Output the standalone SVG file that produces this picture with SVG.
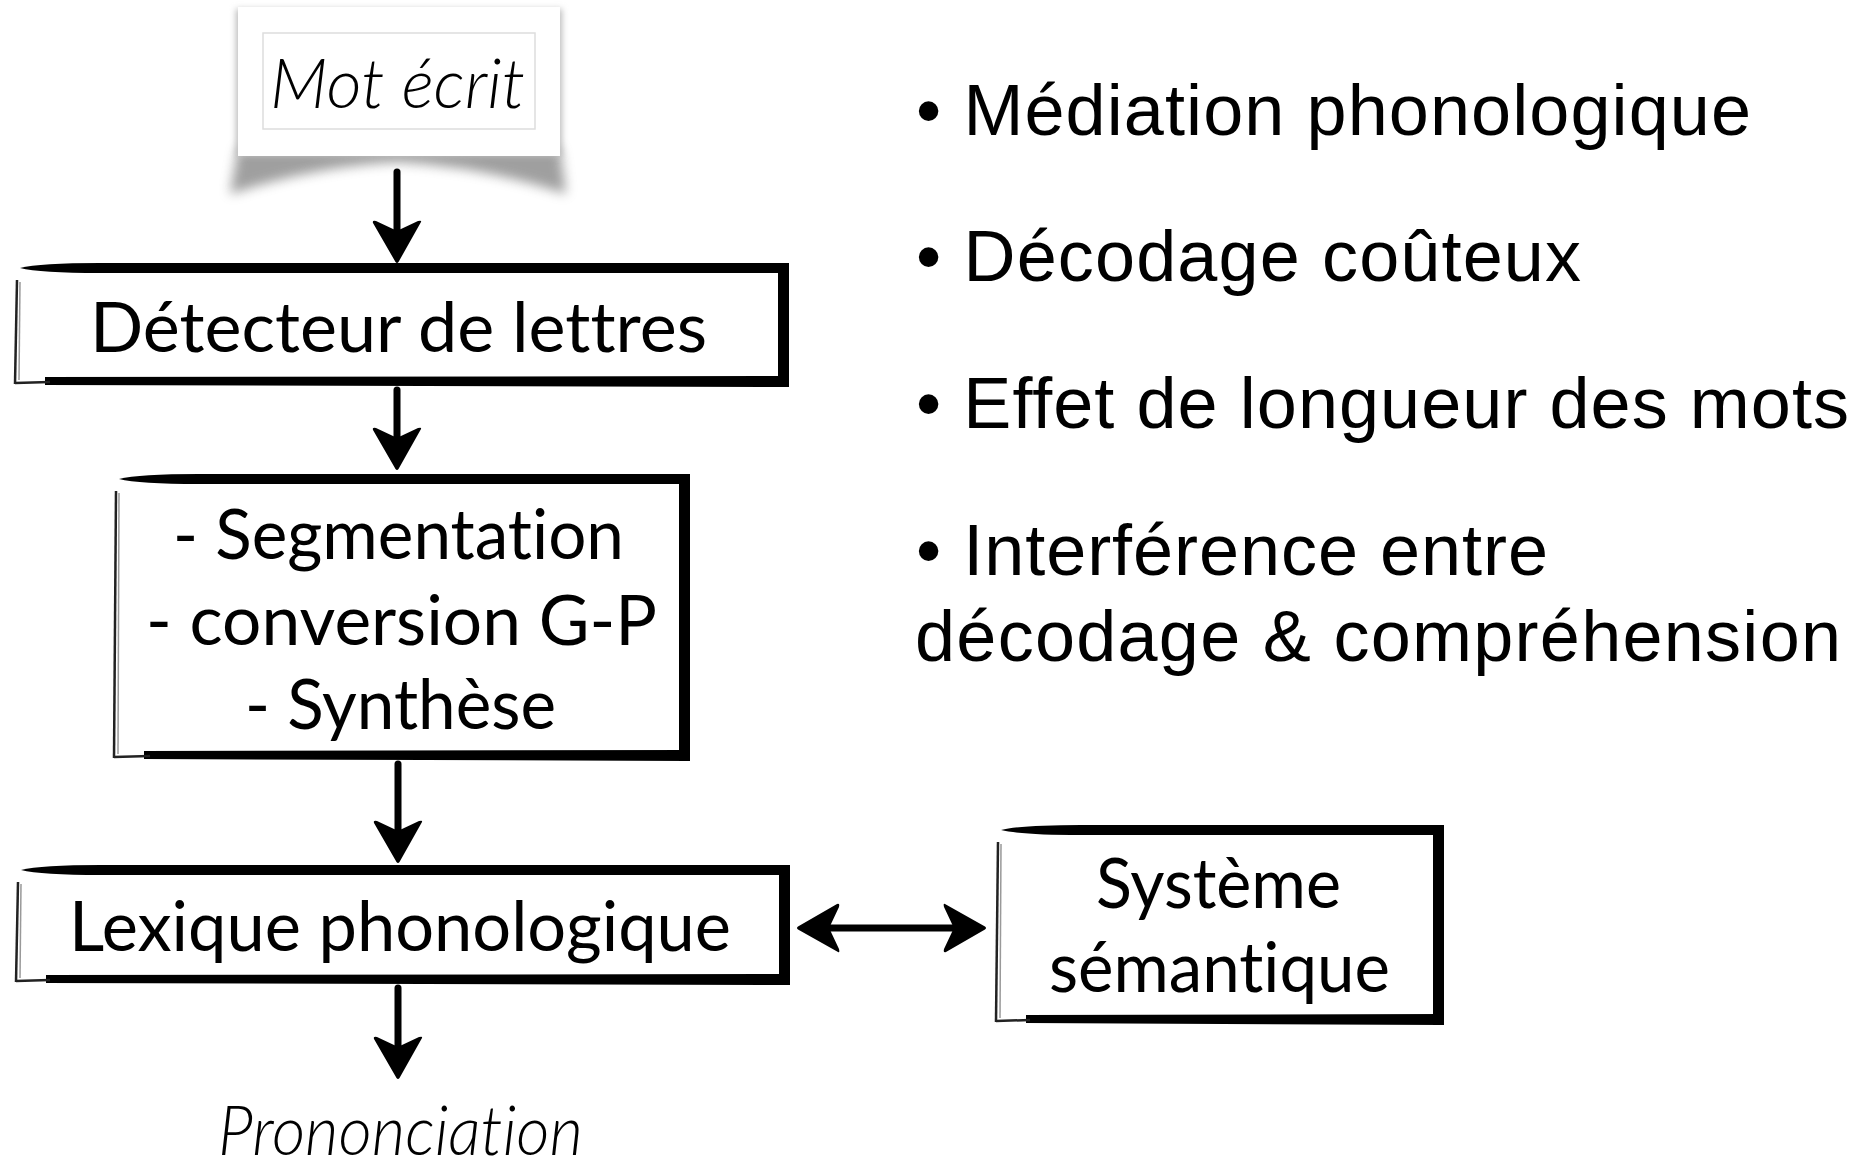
<svg xmlns="http://www.w3.org/2000/svg" width="1874" height="1161" viewBox="0 0 1874 1161">
<style>
.ink{fill:#000}
.thin{stroke:#222;stroke-width:2.5;fill:none}
.thin2{stroke:#999;stroke-width:1.5;fill:none}
.conn{stroke:#000;stroke-width:7;fill:none;stroke-linecap:round}
.lbl{font-family:Lato,"Open Sans","Noto Sans",sans-serif;font-size:70px;fill:#000;text-anchor:middle;font-variant-ligatures:none}
.it{font-style:italic;font-weight:300}
.bul{font-family:"Liberation Sans",Arial,Helvetica,sans-serif;font-size:72px;fill:#000}
</style>
<defs>
<marker id="head" viewBox="0 0 44 50" markerWidth="44" markerHeight="50" refX="12" refY="25" orient="auto-start-reverse" markerUnits="userSpaceOnUse" overflow="visible">
<path d="M2,1 Q0,0 1,4 L9,21 Q11,25 9,29 L1,46 Q0,50 3,49 L42,26.5 Q44,25 42,23.5 Z" fill="#000"/>
</marker>
<filter id="blur" x="-20%" y="-50%" width="140%" height="200%"><feGaussianBlur stdDeviation="6"/></filter>
<filter id="blur2" x="-10%" y="-10%" width="120%" height="120%"><feGaussianBlur stdDeviation="3"/></filter>
</defs>

<g id="mot-ecrit">
<path d="M238,148 L560,148 L566,194 Q480,166 398,162 Q316,166 230,194 Z" fill="#777" filter="url(#blur)" opacity="0.7"/>
<rect x="236" y="9" width="326" height="147" fill="#bbb" filter="url(#blur2)"/>
<rect x="238" y="7" width="322" height="149" fill="#fff"/>
<rect x="263" y="33" width="272" height="96" fill="none" stroke="#ddd" stroke-width="1.5"/>
<text class="lbl it" x="397.5" y="108" textLength="255" lengthAdjust="spacingAndGlyphs">Mot écrit</text>
</g>

<g id="detecteur">
<rect x="15" y="263" width="774" height="124" fill="#fff"/>
<path class="ink" d="M20,268 Q40,263 100,263 L789,263 L789,273 L100,273 Q40,273 20,268 Z"/>
<rect class="ink" x="778" y="263" width="11" height="124"/>
<path class="ink" d="M45,377 L789,376 L789,387 L45,385 Z"/>
<path class="thin" d="M15,383 L50,382"/>
<path class="thin" d="M17,280 L15,384"/>
<path class="thin2" d="M20,282 L19,380"/>
<text class="lbl" x="398.5" y="352" textLength="617" lengthAdjust="spacingAndGlyphs">Détecteur de lettres</text>
</g>

<g id="conversion">
<rect x="114" y="474" width="576" height="287" fill="#fff"/>
<path class="ink" d="M119,479 Q139,474 199,474 L690,474 L690,484 L199,484 Q139,484 119,479 Z"/>
<rect class="ink" x="679" y="474" width="11" height="287"/>
<path class="ink" d="M144,751 L690,750 L690,761 L144,759 Z"/>
<path class="thin" d="M114,757 L150,756"/>
<path class="thin" d="M116,491 L114,758"/>
<path class="thin2" d="M119,493 L118,754"/>
<text class="lbl" x="398.5" y="559" textLength="451" lengthAdjust="spacingAndGlyphs">- Segmentation</text>
<text class="lbl" x="401.5" y="645" textLength="511" lengthAdjust="spacingAndGlyphs">- conversion G-P</text>
<text class="lbl" x="400.5" y="729" textLength="311" lengthAdjust="spacingAndGlyphs">- Synthèse</text>
</g>

<g id="lexique">
<rect x="16" y="865" width="774" height="120" fill="#fff"/>
<path class="ink" d="M21,870 Q41,865 101,865 L790,865 L790,875 L101,875 Q41,875 21,870 Z"/>
<rect class="ink" x="779" y="865" width="11" height="120"/>
<path class="ink" d="M46,975 L790,974 L790,985 L46,983 Z"/>
<path class="thin" d="M16,981 L50,980"/>
<path class="thin" d="M18,882 L16,982"/>
<path class="thin2" d="M21,884 L20,978"/>
<text class="lbl" x="400" y="951" textLength="662" lengthAdjust="spacingAndGlyphs">Lexique phonologique</text>
</g>

<g id="semantique">
<rect x="996" y="825" width="448" height="200" fill="#fff"/>
<path class="ink" d="M1001,830 Q1021,825 1081,825 L1444,825 L1444,835 L1081,835 Q1021,835 1001,830 Z"/>
<rect class="ink" x="1433" y="825" width="11" height="200"/>
<path class="ink" d="M1026,1015 L1444,1014 L1444,1025 L1026,1023 Z"/>
<path class="thin" d="M996,1021 L1030,1020"/>
<path class="thin" d="M998,842 L996,1022"/>
<path class="thin2" d="M1001,844 L1000,1018"/>
<text class="lbl" x="1218.5" y="908" textLength="245" lengthAdjust="spacingAndGlyphs">Système</text>
<text class="lbl" x="1219.5" y="992" textLength="341" lengthAdjust="spacingAndGlyphs">sémantique</text>
</g>

<g id="prononciation">
<text class="lbl it" x="400.5" y="1155" font-size="67" textLength="365" lengthAdjust="spacingAndGlyphs">Prononciation</text>
</g>

<g id="connectors">
<path class="conn" d="M397,172 L397,232" marker-end="url(#head)"/>
<path class="conn" d="M397,390 L397,439" marker-end="url(#head)"/>
<path class="conn" d="M398,764 L398,832" marker-end="url(#head)"/>
<path class="conn" d="M398,988 L398,1048" marker-end="url(#head)"/>
<path class="conn" d="M828,928 L955,928" marker-start="url(#head)" marker-end="url(#head)"/>
</g>

<g id="bullets">
<text class="bul" x="916" y="135" textLength="835">• Médiation phonologique</text>
<text class="bul" x="916" y="281" textLength="665">• Décodage coûteux</text>
<text class="bul" x="916" y="428" textLength="933">• Effet de longueur des mots</text>
<text class="bul" x="916" y="575" textLength="632">• Interférence entre</text>
<text class="bul" x="915" y="661" textLength="926">décodage &amp; compréhension</text>
</g>
</svg>
